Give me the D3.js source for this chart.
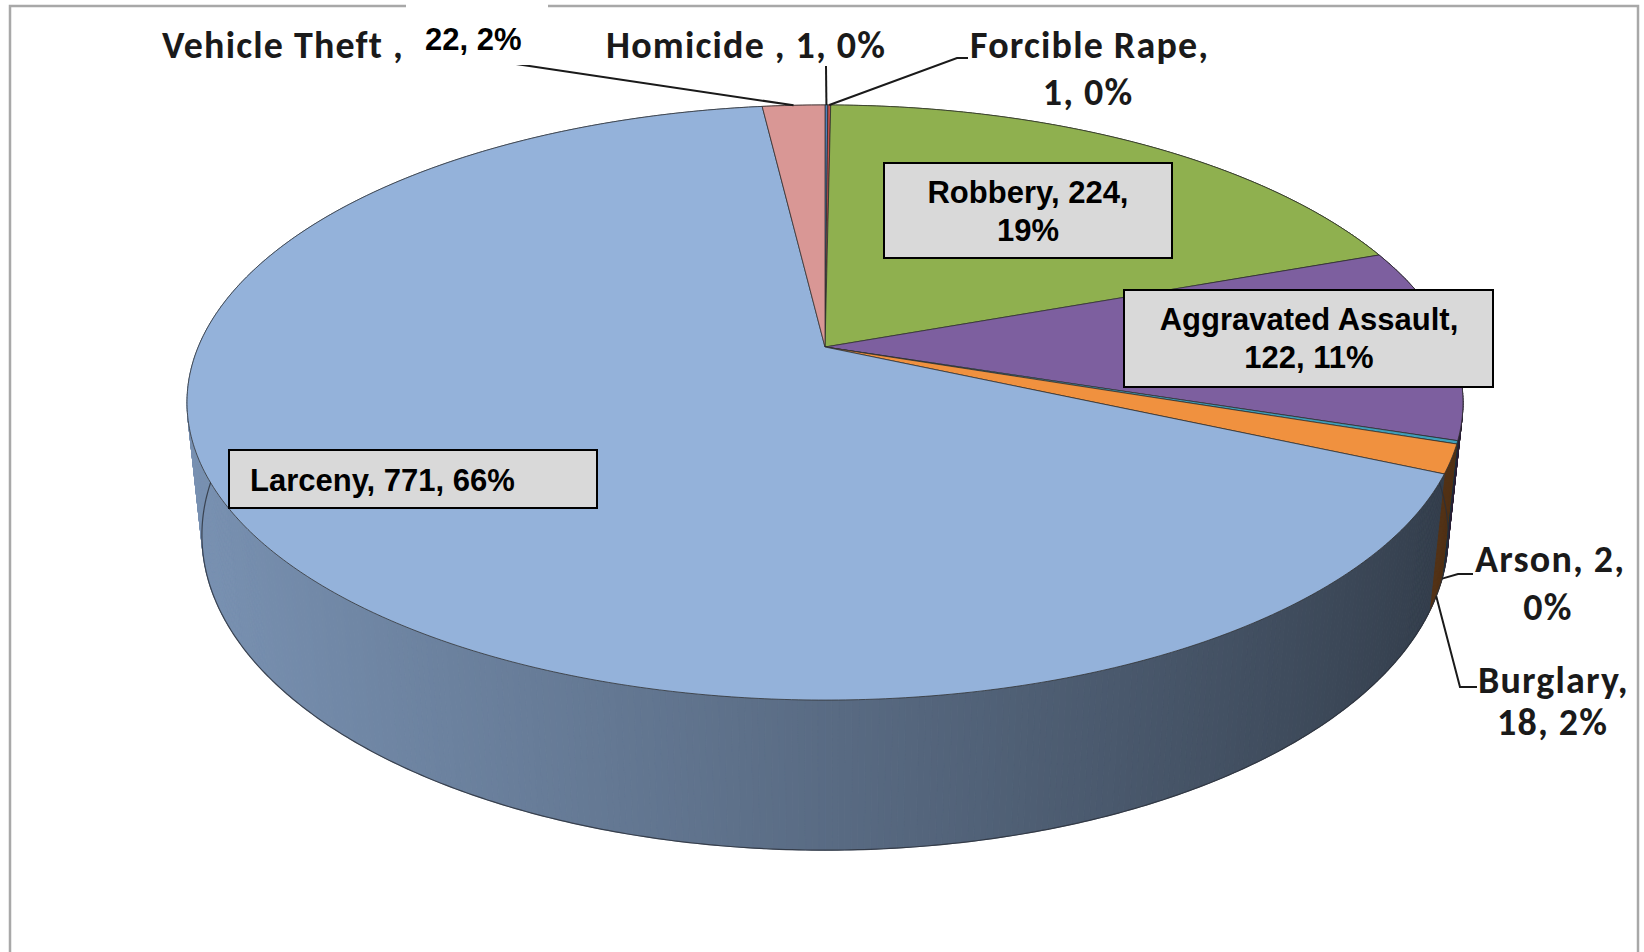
<!DOCTYPE html>
<html lang="en">
<head>
<meta charset="UTF-8" />
<title>Offenses 3D Pie</title>
<script src="https://d3js.org/d3.v7.min.js"></script>
<style>
  body { margin: 0; background: #fff; }
  .callout { font-family: Carlito, Lato, "Open Sans", sans-serif; font-weight: bold; font-size: 38px; letter-spacing: 1.2px; fill: #1a1a1a; }
  .boxed { font-family: Arial, "Liberation Sans", sans-serif; font-weight: bold; font-size: 31px; fill: #000; }
  .leader { fill: none; stroke: #1a1a1a; stroke-width: 2; }
</style>
</head>
<body>
<svg id="chart" width="1644" height="952"></svg>
<script>
// data (clockwise from 12 o'clock)
const categories = ["Homicide ", "Forcible Rape", "Robbery", "Aggravated Assault", "Arson", "Burglary", "Larceny", "Vehicle Theft "];
const counts = [1, 1, 224, 122, 2, 18, 771, 22];
const colors = ["#4f81bd", "#c0504d", "#8fb04f", "#7d5f9f", "#3f9fba", "#f0913f", "#94b2da", "#d99795"];

// label placement (screen px), one entry per category
const labelLayout = [
  { kind: "callout", breakAfter: 3, lines: [[606, 58, "start"]], leader: [[826, 66]], depth: 0 },
  { kind: "callout", breakAfter: 1, lines: [[970, 58, "start"], [1088, 105, "middle"]], leader: [[957, 58], [968, 58]], depth: 0 },
  { kind: "box", breakAfter: 2, box: [884, 163, 288, 95], lines: [[1028, 203, "middle"], [1028, 241, "middle"]] },
  { kind: "box", breakAfter: 1, box: [1124, 290, 369, 97], lines: [[1309, 330, "middle"], [1309, 368, "middle"]] },
  { kind: "callout", breakAfter: 2, lines: [[1475, 572, "start"], [1548, 620, "middle"]], leader: [[1458, 574], [1473, 574]], depth: 1 },
  { kind: "callout", breakAfter: 1, lines: [[1478, 693, "start"], [1497, 735, "start"]], leader: [[1460, 687], [1477, 687]], depth: 1 },
  { kind: "box", breakAfter: 3, box: [229, 450, 368, 58], lines: [[250, 491, "start"]] },
  { kind: "callout", breakAfter: 1, lines: [[162, 58, "start"], [425, 50, "start"]], leader: [[516, 64]], depth: 0, patch: [406, 3, 142, 62] }
];

const width = 1644, height = 952;
const svg = d3.select("#chart");

// chart frame
svg.append("rect")
  .attr("x", 10).attr("y", 6).attr("width", 1628).attr("height", 1000)
  .attr("fill", "#fff").attr("stroke", "#a8a8a8").attr("stroke-width", 2.5);

// perspective camera for the 3D pie
const cx = 825, cy = 347;
const phi = 27.27 * Math.PI / 180, sinP = Math.sin(phi), cosP = Math.cos(phi);
const dist = 4.764, focal = 2986, thick = 0.24;

function project(theta, r, y) {
  const X = r * Math.sin(theta), Z = -r * Math.cos(theta);
  const depth = dist - (y * sinP + Z * cosP);
  return [cx + focal * X / depth, cy + focal * (Z * sinP - y * cosP) / depth, depth];
}

const total = d3.sum(counts);
const pct = d3.format(".0%");
const arcs = d3.pie().sort(null).value(d => d)(counts);

function rimPoints(a0, a1, y) {
  const n = Math.max(1, Math.ceil((a1 - a0) / (0.5 * Math.PI / 180)));
  return d3.range(n + 1).map(i => project(a0 + (a1 - a0) * i / n, 1, y));
}

// side shading: lighter on the left, darker on the right
function sideColor(base, theta) {
  const t = (Math.sin(theta) + 1) / 2;
  const k = 0.82 - 0.5 * Math.pow(t, 1.2);
  const c = d3.rgb(base);
  return d3.rgb(c.r * k, c.g * k, c.b * k).formatHex();
}

// outer wall quads, painted back to front
const quads = [];
arcs.forEach((a, i) => {
  const n = Math.max(1, Math.ceil((a.endAngle - a.startAngle) / (0.5 * Math.PI / 180)));
  for (let j = 0; j < n; j++) {
    const t0 = a.startAngle + (a.endAngle - a.startAngle) * j / n;
    const t1 = a.startAngle + (a.endAngle - a.startAngle) * (j + 1) / n;
    const pts = [project(t0, 1, 0), project(t1, 1, 0), project(t1, 1, -thick), project(t0, 1, -thick)];
    quads.push({ pts, depth: d3.mean(pts, p => p[2]), color: sideColor(colors[i], (t0 + t1) / 2) });
  }
});
quads.sort((a, b) => b.depth - a.depth);

const line = d3.line();
svg.append("g").selectAll("path").data(quads).join("path")
  .attr("d", d => line(d.pts.map(p => [p[0], p[1]])) + "Z")
  .attr("fill", d => d.color)
  .attr("stroke", d => d.color)
  .attr("stroke-width", 1);

// bottom rim outline
svg.append("path")
  .attr("d", line(rimPoints(Math.PI / 2, 3 * Math.PI / 2, -thick).map(p => [p[0], p[1]])))
  .attr("fill", "none").attr("stroke", "#2a2f3a").attr("stroke-width", 1.2).attr("stroke-opacity", 0.8);

// top faces
svg.append("g").selectAll("path").data(arcs).join("path")
  .attr("d", a => line([[cx, cy]].concat(rimPoints(a.startAngle, a.endAngle, 0).map(p => [p[0], p[1]]))) + "Z")
  .attr("fill", (a, i) => colors[i])
  .attr("stroke", "#2e2e2e").attr("stroke-width", 1).attr("stroke-opacity", 0.75)
  .attr("stroke-linejoin", "round");

// labels
arcs.forEach((a, i) => {
  const lay = labelLayout[i];
  const parts = [categories[i] + ",", counts[i] + ",", pct(counts[i] / total)];
  const texts = [parts.slice(0, lay.breakAfter).join(" "), parts.slice(lay.breakAfter).join(" ")].filter(s => s);

  if (lay.leader) {
    const mid = (a.startAngle + a.endAngle) / 2;
    const p = project(mid, 1, -thick * lay.depth);
    svg.append("path").attr("class", "leader")
      .attr("d", line([[p[0], p[1]]].concat(lay.leader)));
  }
  if (lay.box) {
    svg.append("rect")
      .attr("x", lay.box[0]).attr("y", lay.box[1]).attr("width", lay.box[2]).attr("height", lay.box[3])
      .attr("fill", "#d9d9d9").attr("stroke", "#000").attr("stroke-width", 2);
  }
  if (lay.patch) {
    svg.append("rect")
      .attr("x", lay.patch[0]).attr("y", lay.patch[1]).attr("width", lay.patch[2]).attr("height", lay.patch[3])
      .attr("fill", "#fff");
  }
  texts.forEach((s, j) => {
    const [x, y, anchor] = lay.lines[j];
    // the pasted-in value of Vehicle Theft is set in the boxed style
    const cls = lay.kind === "box" || (lay.patch && j === 1) ? "boxed" : "callout";
    svg.append("text").attr("class", cls)
      .attr("x", x).attr("y", y).attr("text-anchor", anchor)
      .text(s);
  });
});
</script>
</body>
</html>
